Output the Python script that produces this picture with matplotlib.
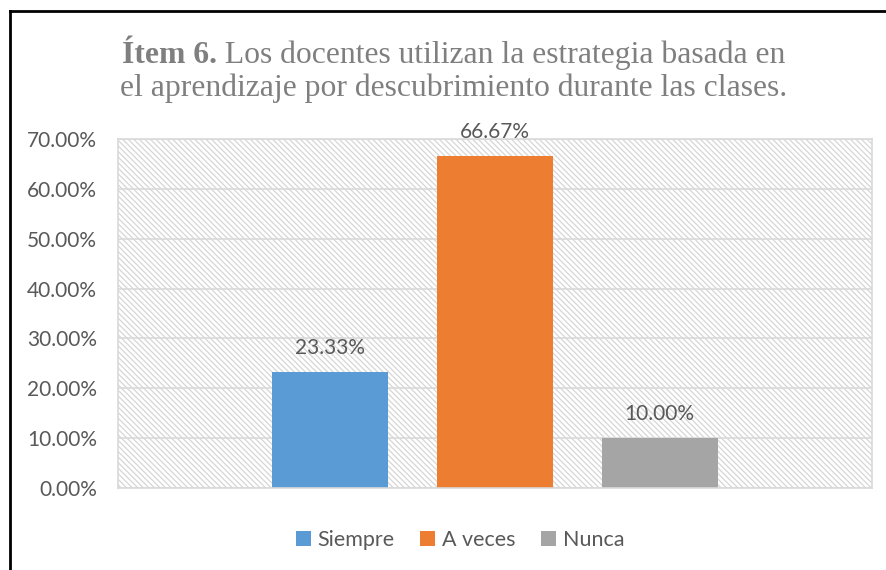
import matplotlib.pyplot as plt
from matplotlib.patches import Rectangle
from matplotlib.lines import Line2D

series = ["Siempre", "A veces", "Nunca"]
values = [23.33, 66.67, 10.00]
colors = ["#5B9BD5", "#ED7D31", "#A5A5A5"]
yticks = [0, 10, 20, 30, 40, 50, 60, 70]

title_bold = "Ítem 6."
title_rest = " Los docentes utilizan la estrategia basada en"
title_line2 = "el aprendizaje por descubrimiento durante las clases."

plt.rcParams['font.family'] = ['Lato', 'DejaVu Sans']
plt.rcParams['hatch.linewidth'] = 0.9
txt = "#595959"
W, H = 886, 570

fig = plt.figure(figsize=(8.86, 5.7), dpi=100)
ax = fig.add_axes([118 / W, 1 - 488 / H, (872 - 118) / W, (488 - 139) / H])

# hatched plot area
ax.add_patch(Rectangle((0, 0), 1, 1, transform=ax.transAxes, facecolor='white',
                       edgecolor='#D6D6D6', hatch='\\\\\\\\\\\\', lw=0, zorder=0))

xs = [-1, 0, 1]
bars = ax.bar(xs, values, width=0.705, color=colors, zorder=2)
for x, v in zip(xs, values):
    ax.annotate(f"{v:.2f}%", (x, v), xytext=(0, 13), textcoords='offset points',
                ha='center', va='baseline', fontsize=15, color=txt)

ax.set_xlim(-2.29, 2.29)
ax.set_ylim(0, 70)
ax.set_yticks(yticks)
ax.set_yticklabels([f"{t:.2f}%" for t in yticks])
ax.set_xticks([])
ax.tick_params(axis='y', length=0, pad=15, labelsize=15, labelcolor=txt)
ax.grid(axis='y', color='#D9D9D9', lw=1.2)
ax.set_axisbelow(True)
for s in ax.spines.values():
    s.set_color('#D9D9D9')
    s.set_linewidth(1.2)

fig.legend(bars, series, loc='center', bbox_to_anchor=(460 / W, 1 - 540 / H),
           ncol=3, frameon=False, fontsize=15.5, labelcolor=txt,
           handlelength=0.7, handleheight=0.7, handletextpad=0.3, columnspacing=1.2)

# title, bold part followed by regular text
tfont = dict(family=['Liberation Serif', 'DejaVu Serif'], fontsize=22.8, color='#7F7F7F')
t1 = fig.text(122 / W, 1 - 63 / H, title_bold, fontweight='bold', va='baseline', **tfont)
fig.canvas.draw()
bb = t1.get_window_extent(fig.canvas.get_renderer())
fig.text(bb.x1 / W, 1 - 63 / H, title_rest, va='baseline', **tfont)
fig.text(120 / W, 1 - 96 / H, title_line2, va='baseline', **tfont)

# outer border (left and top edges visible)
fig.add_artist(Line2D([9.5 / W, 9.5 / W], [0, 1 - 11 / H], transform=fig.transFigure, color='black', lw=2))
fig.add_artist(Line2D([9.5 / W, 1], [1 - 11 / H, 1 - 11 / H], transform=fig.transFigure, color='black', lw=2))

fig.savefig("out.png", dpi=100)
